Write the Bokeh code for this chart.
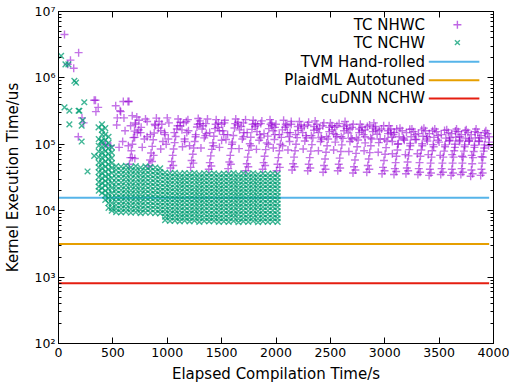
from bokeh.plotting import figure
from bokeh.models import LinearAxis, LogAxis, FixedTicker, Label, Range1d
from bokeh.embed import file_html
from bokeh.resources import INLINE

# ---------------- data ----------------
x_ticks = [0, 500, 1000, 1500, 2000, 2500, 3000, 3500, 4000]
y_ticks = [100, 1000, 10000, 100000, 1000000, 10000000]
y_tick_labels = ["10²", "10³", "10⁴", "10⁵", "10⁶", "10⁷"]
x_label = "Elapsed Compilation Time/s"
y_label = "Kernel Execution Time/us"

series_names = ["TC NHWC", "TC NCHW"]
baseline_names = ["TVM Hand-rolled", "PlaidML Autotuned", "cuDNN NCHW"]
baseline_values = [15700, 3140, 810]
baseline_x = [0, 3960]

# TC NHWC (purple +)
nhwc_x = [
    55, 110, 85, 140, 185, 182, 216, 231, 328, 340, 365, 344, 526, 535, 541, 557, 572, 596, 602, 648, 639, 566, 678, 663, 700, 678, 480, 430, 612, 590,
    652, 661, 670, 680, 689, 699, 709, 720, 642, 702, 738,
    830, 842, 851, 862, 871, 880, 890, 900, 815, 860, 918, 875,
    1030, 1041, 1050, 1058, 1068, 1077, 1088, 1100, 1010, 1055, 1118, 975,
    1215, 1224, 1235, 1243, 1252, 1262, 1273, 1285, 1195, 1240, 1300, 1160,
    1382, 1391, 1400, 1410, 1419, 1428, 1439, 1450, 1360, 1405, 1465,
    1560, 1571, 1580, 1590, 1599, 1608, 1618, 1630, 1540, 1585, 1648, 1510,
    1722, 1731, 1740, 1750, 1759, 1768, 1779, 1790, 1705, 1745, 1808,
    1877, 1886, 1895, 1905, 1915, 1924, 1934, 1945, 1860, 1900, 1962,
    2005, 2014, 2022, 2031, 2040, 2049, 2059, 2070, 1990, 2035, 2085,
    2148, 2157, 2166, 2175, 2184, 2194, 2204, 2215, 2130, 2170, 2232,
    2292, 2301, 2310, 2320, 2330, 2339, 2349, 2360, 2275, 2315, 2376,
    2433, 2442, 2451, 2460, 2470, 2480, 2490, 2500, 2415, 2455, 2516,
    2568, 2577, 2586, 2596, 2605, 2615, 2625, 2635, 2550, 2590, 2650,
    2708, 2717, 2726, 2736, 2746, 2755, 2765, 2775, 2690, 2730, 2790,
    2835, 2844, 2853, 2862, 2872, 2881, 2890, 2900, 2818, 2858, 2915,
    2975, 2984, 2993, 3003, 3012, 3021, 3030, 3040, 2958, 2998, 3055,
    3085, 3093, 3100, 3108, 3116, 3124, 3132, 3140, 3070, 3105,
    3195, 3203, 3210, 3218, 3226, 3234, 3242, 3250, 3180, 3215,
    3305, 3313, 3320, 3328, 3336, 3344, 3352, 3360, 3290, 3325,
    3408, 3415, 3422, 3430, 3437, 3445, 3452, 3460, 3392, 3425,
    3515, 3523, 3530, 3538, 3546, 3554, 3562, 3570, 3500, 3535,
    3610, 3617, 3624, 3632, 3639, 3646, 3653, 3660, 3596, 3628,
    3700, 3707, 3714, 3721, 3728, 3735, 3742, 3750, 3686, 3718,
    3790, 3797, 3804, 3811, 3818, 3825, 3832, 3840, 3776, 3808,
    3882, 3889, 3896, 3903, 3910, 3917, 3924, 3930, 3868, 3900, 3955,
    760, 790, 950, 980, 1150, 1180, 1330, 1350, 1500, 1520, 1680, 1700, 1830, 1850, 1990, 2100, 2120, 2260, 2280, 2400,
    2420, 2540, 2560, 2680, 2700, 2820, 2950, 3080, 3170, 3280, 3390, 3490, 3600, 3690, 3780, 3870, 3960,
    740, 755, 925, 940, 960, 1120, 1135, 1160, 1300, 1320, 1340, 1470, 1480, 1500, 1650, 1665, 1690, 1810, 1825, 1845,
    1960, 1975, 1985, 2090, 2105, 2125, 2230, 2245, 2265, 2375, 2390, 2410, 2515, 2530, 2545, 2650, 2665, 2680, 2790, 2805,
    2820, 2915, 2930, 2945, 3055, 3065, 3160, 3175, 3265, 3280, 3375, 3385, 3475, 3490, 3585, 3595, 3675, 3690, 3765, 3775,
    3855, 3865, 3945, 3960,
    770, 800, 940, 1000, 1140, 1190, 1310, 1370, 1480, 1530, 1660, 1720, 1820, 1870, 1975, 2110, 2140, 2250, 2300, 2390,
    2440, 2530, 2580, 2670, 2710, 2810, 2860, 2940, 2990, 3070, 3110, 3190, 3230, 3300, 3340, 3400, 3440, 3510, 3550, 3620,
    3650, 3710, 3740, 3800, 3830, 3890, 3920,
    705, 725, 815, 845, 885, 990, 1015, 1065, 1095, 1175, 1205, 1260, 1280, 1355, 1390, 1425, 1445, 1525, 1555, 1595,
    1625, 1700, 1735, 1770, 1785, 1860, 1890, 1930, 1950, 2000, 2030, 2060, 2140, 2180, 2200, 2290, 2325, 2350, 2430, 2465,
    2490, 2560, 2600, 2625, 2700, 2740, 2765, 2840, 2870, 2895, 2970, 3000, 3030, 3090, 3120, 3200, 3235, 3310, 3345, 3410,
    3450, 3520, 3555, 3615, 3645, 3705, 3735, 3795, 3825, 3885, 3915,
]
nhwc_y = [
    4500000, 1850000, 1600000, 1400000, 2400000, 130000, 250000, 210000, 460000, 460000, 360000, 310000, 380000, 195000, 250000, 90000, 310000, 440000, 250000, 440000, 440000, 320000, 270000, 190000, 127000, 63000, 95000, 100000, 160000, 110000,
    50000, 63000, 80000, 100000, 126000, 158000, 200000, 258000, 95000, 61000, 165000,
    47000, 58000, 74000, 93000, 117000, 148000, 192000, 248000, 130000, 55000, 175000, 68000,
    44000, 55000, 68000, 85000, 106000, 131000, 170000, 240000, 120000, 48000, 190000, 150000,
    45000, 57000, 71000, 88000, 110000, 140000, 182000, 245000, 160000, 52000, 205000, 110000,
    42000, 53000, 67000, 84000, 105000, 132000, 172000, 235000, 145000, 47000, 180000,
    43000, 54000, 68000, 86000, 108000, 136000, 176000, 240000, 118000, 50000, 195000, 160000,
    40000, 51000, 64000, 81000, 102000, 128000, 168000, 230000, 150000, 46000, 185000,
    42000, 53000, 66000, 83000, 105000, 133000, 172000, 235000, 125000, 48000, 190000,
    40000, 50000, 63000, 80000, 100000, 127000, 165000, 230000, 140000, 45000, 180000,
    41000, 51000, 64000, 80000, 100000, 126000, 162000, 220000, 150000, 46000, 175000,
    40000, 50000, 63000, 79000, 99000, 125000, 163000, 225000, 135000, 44000, 170000,
    38000, 48000, 60000, 76000, 95000, 120000, 155000, 210000, 128000, 42000, 165000,
    40000, 50000, 62000, 78000, 98000, 123000, 160000, 220000, 140000, 44000, 172000,
    37000, 46000, 58000, 73000, 92000, 116000, 150000, 200000, 125000, 41000, 160000,
    38000, 48000, 60000, 75000, 95000, 120000, 155000, 210000, 130000, 42000, 165000,
    36000, 45000, 57000, 71000, 89000, 112000, 145000, 190000, 120000, 40000, 150000,
    35000, 43000, 53000, 66000, 82000, 102000, 130000, 175000, 110000, 39000,
    36000, 44000, 54000, 67000, 83000, 103000, 130000, 170000, 115000, 40000,
    35000, 43000, 53000, 66000, 82000, 102000, 132000, 175000, 118000, 38000,
    34000, 42000, 52000, 64000, 80000, 99000, 127000, 170000, 112000, 37000,
    35000, 43000, 52000, 64000, 79000, 98000, 124000, 165000, 108000, 38000,
    34000, 42000, 52000, 64000, 80000, 100000, 128000, 170000, 115000, 37000,
    35000, 43000, 52000, 64000, 79000, 98000, 124000, 165000, 110000, 38000,
    33000, 41000, 51000, 63000, 78000, 97000, 125000, 170000, 112000, 36000,
    34000, 42000, 52000, 64000, 79000, 98000, 124000, 160000, 110000, 37000, 95000,
    180000, 120000, 200000, 140000, 210000, 150000, 190000, 135000, 200000, 140000, 185000, 130000, 195000, 140000, 180000, 190000, 130000, 185000, 125000, 175000,
    120000, 180000, 130000, 170000, 120000, 165000, 160000, 140000, 125000, 140000, 130000, 135000, 125000, 130000, 120000, 125000, 130000,
    230000, 150000, 220000, 160000, 110000, 215000, 165000, 120000, 225000, 170000, 125000, 210000, 160000, 115000, 215000, 165000, 120000, 205000, 155000, 115000,
    210000, 160000, 118000, 200000, 150000, 110000, 195000, 150000, 112000, 200000, 150000, 110000, 190000, 145000, 108000, 195000, 148000, 110000, 180000, 140000,
    105000, 185000, 142000, 106000, 170000, 128000, 160000, 120000, 155000, 118000, 160000, 120000, 155000, 115000, 150000, 112000, 155000, 115000, 150000, 112000,
    150000, 112000, 145000, 108000,
    90000, 240000, 85000, 250000, 92000, 235000, 88000, 240000, 90000, 230000, 86000, 235000, 84000, 225000, 88000, 82000, 220000, 85000, 215000, 80000,
    210000, 82000, 205000, 78000, 200000, 80000, 195000, 76000, 190000, 72000, 170000, 70000, 168000, 72000, 165000, 70000, 160000, 68000, 162000, 70000,
    158000, 66000, 160000, 68000, 155000, 65000, 150000,
    210000, 150000, 220000, 140000, 200000, 100000, 210000, 150000, 190000, 220000, 95000, 130000, 200000, 205000, 150000, 95000, 200000, 210000, 140000, 100000,
    205000, 210000, 150000, 95000, 200000, 205000, 145000, 100000, 200000, 200000, 140000, 95000, 200000, 140000, 185000, 195000, 135000, 185000, 190000, 130000,
    180000, 190000, 130000, 185000, 180000, 125000, 170000, 185000, 125000, 175000, 170000, 120000, 160000, 150000, 100000, 150000, 95000, 145000, 95000, 145000,
    92000, 140000, 92000, 145000, 90000, 140000, 92000, 140000, 90000, 135000, 88000,
]

# TC NCHW (green x): early scattered samples
nchw_x = [24, 64, 91, 146, 161, 55, 100, 100, 192, 213, 213, 237, 185, 267, 328, 368, 390, 222]
nchw_y = [2150000, 1600000, 1600000, 900000, 850000, 360000, 320000, 200000, 320000, 190000, 110000, 430000, 320000, 39000, 67000, 180000, 110000, 230000]

# TC NCHW: dense samples grouped by time
nchw_col_x = [370, 400, 430, 460, 490,
              530, 575, 620, 665, 710, 755, 800, 845, 890, 935,
              980, 1025, 1070, 1115, 1160, 1205, 1250, 1295, 1340, 1385, 1430, 1475,
              1520, 1565, 1610, 1655, 1700, 1745, 1790, 1835, 1880, 1925, 1970, 2015]
nchw_col_y = [
    [120000, 95000, 78000, 64000, 53000, 45000, 38000, 32000, 27000, 23000, 20000],
    [200000, 165000, 140000, 112000, 92000, 76000, 63000, 52000, 44000, 37000, 31000, 26000, 22000, 18500],
    [175000, 140000, 115000, 95000, 79000, 66000, 55000, 46000, 39000, 33000, 28000, 24000, 20000, 17000, 14500],
    [130000, 105000, 87000, 72000, 60000, 50000, 42000, 35000, 30000, 25500, 21500, 18000, 15500, 13000, 11000],
    [90000, 75000, 62000, 52000, 44000, 37000, 31000, 26000, 22000, 18500, 15500, 13000, 11000, 10000],
    [47000, 41000, 35500, 31000, 27000, 23500, 20500, 18000, 15800, 13800, 12100, 10700, 9500],
    [46000, 40000, 35000, 30500, 26600, 23200, 20300, 17800, 15600, 13700, 12000, 10600, 9400],
    [47500, 41500, 36000, 31500, 27500, 24000, 21000, 18400, 16100, 14100, 12400, 10900, 9600],
    [45000, 39500, 34500, 30000, 26300, 23000, 20100, 17600, 15400, 13500, 11900, 10500, 9300],
    [47000, 41000, 35800, 31300, 27300, 23900, 20900, 18300, 16000, 14000, 12300, 10800, 9500],
    [44500, 39000, 34200, 29900, 26200, 22900, 20000, 17500, 15300, 13400, 11800, 10400, 9200],
    [46500, 40700, 35600, 31100, 27200, 23800, 20800, 18200, 15900, 13900, 12200, 10700, 9400],
    [45500, 39800, 34800, 30500, 26700, 23400, 20500, 17900, 15700, 13700, 12000, 10600, 9300],
    [44800, 39200, 34300, 30000, 26300, 23000, 20100, 17600, 15400, 13500, 11900, 10500, 9200],
    [43500, 38100, 33400, 29300, 25700, 22500, 19700, 17300, 15200, 13300, 11700, 10300, 9100],
    [37500, 33000, 29000, 25500, 22400, 19700, 17300, 15200, 13400, 11800, 10400, 9200, 8100, 7200],
    [36500, 32100, 28200, 24800, 21800, 19200, 16900, 14900, 13100, 11500, 10100, 8900, 7900, 7000],
    [37200, 32700, 28700, 25200, 22200, 19500, 17100, 15100, 13300, 11700, 10300, 9100, 8000, 7100],
    [35800, 31500, 27700, 24400, 21500, 18900, 16600, 14600, 12900, 11300, 10000, 8800, 7800, 6900],
    [36900, 32500, 28600, 25100, 22100, 19400, 17100, 15000, 13200, 11600, 10200, 9000, 8000, 7100],
    [36200, 31900, 28000, 24600, 21700, 19100, 16800, 14800, 13000, 11400, 10000, 8900, 7800, 6900],
    [37000, 32600, 28700, 25200, 22200, 19500, 17200, 15100, 13300, 11700, 10300, 9100, 8000, 7100],
    [35500, 31200, 27500, 24200, 21300, 18700, 16500, 14500, 12800, 11200, 9900, 8700, 7700, 6800],
    [36700, 32300, 28400, 25000, 22000, 19400, 17000, 15000, 13200, 11600, 10200, 9000, 7900, 7000],
    [36000, 31700, 27900, 24500, 21600, 19000, 16700, 14700, 12900, 11400, 10000, 8800, 7800, 6900],
    [36600, 32200, 28300, 24900, 21900, 19300, 17000, 14900, 13100, 11500, 10100, 8900, 7900, 7000],
    [35400, 31200, 27400, 24100, 21200, 18700, 16400, 14500, 12700, 11200, 9900, 8700, 7700, 6800],
    [36300, 32000, 28100, 24700, 21800, 19200, 16900, 14800, 13000, 11500, 10100, 8900, 7800, 6900],
    [35800, 31500, 27700, 24400, 21400, 18900, 16600, 14600, 12800, 11300, 9900, 8800, 7700, 6800],
    [36800, 32400, 28500, 25100, 22100, 19400, 17100, 15000, 13200, 11600, 10200, 9000, 8000, 7000],
    [35300, 31100, 27300, 24000, 21100, 18600, 16400, 14400, 12700, 11200, 9800, 8700, 7600, 6700],
    [36400, 32000, 28200, 24800, 21800, 19200, 16900, 14900, 13100, 11500, 10100, 8900, 7800, 6900],
    [35600, 31300, 27600, 24300, 21300, 18800, 16500, 14500, 12800, 11300, 9900, 8700, 7700, 6800],
    [36700, 32300, 28400, 25000, 22000, 19400, 17000, 15000, 13200, 11600, 10200, 9000, 7900, 7000],
    [35400, 31200, 27400, 24100, 21200, 18700, 16400, 14500, 12700, 11200, 9800, 8700, 7600, 6700],
    [36200, 31900, 28000, 24700, 21700, 19100, 16800, 14800, 13000, 11400, 10100, 8900, 7800, 6900],
    [35900, 31600, 27800, 24500, 21500, 19000, 16700, 14700, 12900, 11400, 10000, 8800, 7700, 6800],
    [36300, 31900, 28100, 24700, 21800, 19100, 16800, 14800, 13000, 11500, 10100, 8900, 7800, 6900],
    [35700, 31400, 27600, 24300, 21400, 18800, 16600, 14600, 12800, 11300, 9900, 8700, 7700, 6800],
]

# ---------------- styling ----------------
PURPLE = "#9400D3"
GREEN = "#009E73"
BASE_COLORS = ["#56B4E9", "#E69F00", "#E51E10"]
FONT = "DejaVu Sans"

# legend layout (data coordinates of the key block)
LEG_TEXT_X = 3370
LEG_SAMPLE_X0, LEG_SAMPLE_X1 = 3405, 3870
LEG_MARK_X = 3668
LEG_ROWS_Y = [6.3e6, 3.4e6, 1.75e6, 9.2e5, 4.9e5]

p = figure(width=511, height=386, x_range=Range1d(0, 4000), y_range=Range1d(100, 1e7),
           y_axis_type="log", output_backend="svg", toolbar_location=None,
           min_border_left=54, min_border_right=18, min_border_top=11, min_border_bottom=43)
p.grid.visible = False
p.outline_line_color = "black"
p.outline_line_width = 1
p.background_fill_color = "white"
p.border_fill_color = "white"

minor = [m * 10 ** e for e in range(2, 7) for m in range(2, 10)]
yticker = FixedTicker(ticks=y_ticks, minor_ticks=minor)
xticker = FixedTicker(ticks=x_ticks)

def style(ax, labels=True):
    ax.axis_line_color = "black"
    ax.major_tick_in = 6
    ax.major_tick_out = 0
    ax.minor_tick_in = 3
    ax.minor_tick_out = 0
    ax.major_tick_line_color = "black"
    ax.minor_tick_line_color = "black"
    if labels:
        ax.major_label_text_font = FONT
        ax.major_label_text_font_size = "12.5px"
        ax.major_label_text_color = "black"
        ax.major_label_standoff = 4
        ax.axis_label_text_font = FONT
        ax.axis_label_text_font_size = "15px"
        ax.axis_label_text_font_style = "normal"
        ax.axis_label_text_color = "black"
        ax.axis_label_standoff = 5
    else:
        ax.major_label_text_color = None
        ax.major_label_standoff = 0

xa = p.xaxis[0]
xa.ticker = xticker
style(xa)
xa.minor_tick_line_color = None
xa.axis_label = x_label

ya = p.yaxis[0]
ya.ticker = yticker
style(ya)
ya.major_label_standoff = 3
ya.axis_label_standoff = 10
ya.major_label_overrides = {t: l for t, l in zip(y_ticks, y_tick_labels)}
ya.axis_label = y_label

top = LinearAxis(ticker=xticker)
style(top, labels=False)
top.minor_tick_line_color = None
p.add_layout(top, "above")

right = LogAxis(ticker=yticker)
style(right, labels=False)
p.add_layout(right, "right")

# baselines
for v, c in zip(baseline_values, BASE_COLORS):
    p.line(baseline_x, [v, v], line_color=c, line_width=2)

# scatter series
pairs = list(zip(nhwc_x, nhwc_y))
p.scatter([a for a, _ in pairs], [b for _, b in pairs], marker="cross", size=8,
          line_color=PURPLE, line_alpha=0.55, line_width=1.4)

gx = list(nchw_x)
gy = list(nchw_y)
for cx, col in zip(nchw_col_x, nchw_col_y):
    for v in col:
        gx.append(cx)
        gy.append(v)
p.scatter(gx, gy, marker="x", size=8, line_color=GREEN, line_alpha=0.75, line_width=1.4)

# key
all_names = series_names + baseline_names
for name, yy in zip(all_names, LEG_ROWS_Y):
    p.add_layout(Label(x=LEG_TEXT_X, y=yy, text=name, text_align="right", text_baseline="middle",
                       text_font=FONT, text_font_size="15px", text_color="black"))
p.scatter([LEG_MARK_X], [LEG_ROWS_Y[0]], marker="cross", size=8, line_color=PURPLE, line_alpha=0.6, line_width=1.4)
p.scatter([LEG_MARK_X], [LEG_ROWS_Y[1]], marker="x", size=7, line_color=GREEN, line_alpha=0.75, line_width=1.4)
for yy, c in zip(LEG_ROWS_Y[2:], BASE_COLORS):
    p.segment([LEG_SAMPLE_X0], [yy], [LEG_SAMPLE_X1], [yy], line_color=c, line_width=2)

open("out.html", "w").write(file_html(p, INLINE))
